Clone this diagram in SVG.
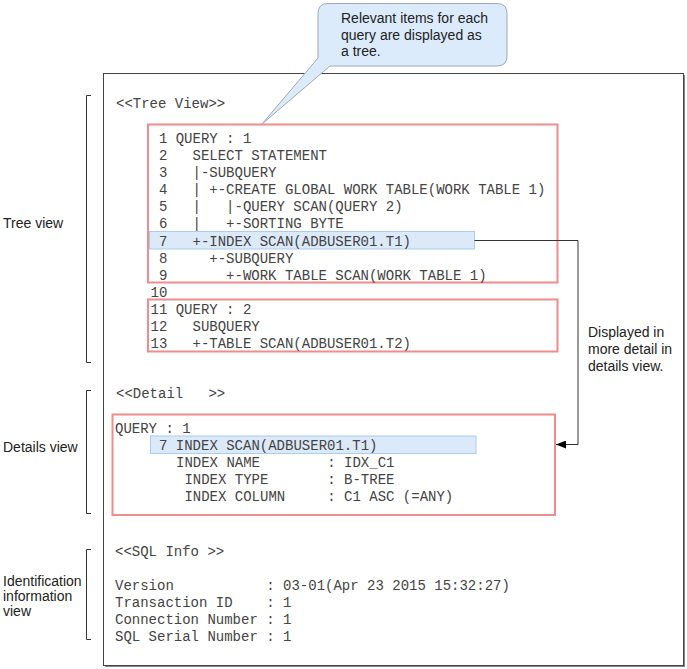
<svg xmlns="http://www.w3.org/2000/svg" width="687" height="669" viewBox="0 0 687 669">
<style>
.mono{font-family:"Liberation Mono","Courier New",monospace;font-size:14px;fill:#444;}
.sans{font-family:"Liberation Sans",Arial,sans-serif;font-size:14px;fill:#222;}
.redbox{fill:none;stroke:#f28b8b;stroke-width:2;}
.hl{fill:#dbe9f9;stroke:#a8cef2;stroke-width:1;}
.brk{fill:none;stroke:#333;stroke-width:1;}
.conn{fill:none;stroke:#333;stroke-width:1;}
</style>
<defs>
<marker id="arr" markerWidth="10" markerHeight="8" refX="10" refY="4" orient="auto" markerUnits="userSpaceOnUse">
<path d="M0,0 L10,4 L0,8 Z" fill="#000"/>
</marker>
</defs>
<rect width="687" height="669" fill="#fff"/>

<g id="main-frame">
<rect x="105" y="75" width="580" height="592" fill="#888"/>
<rect x="103.5" y="73.5" width="580" height="592" fill="#fff" stroke="#444" stroke-width="1"/>
</g>

<g id="callout">
<path d="M328,3.5 H497 Q507,3.5 507,13.5 V56 Q507,66 497,66 H330 L262,124 L318,58 V13.5 Q318,3.5 328,3.5 Z" fill="#dcebfb" stroke="#a0a8b2" stroke-width="1"/>
<text class="sans" x="341" y="22.5">Relevant items for each</text>
<text class="sans" x="341" y="39.5">query are displayed as</text>
<text class="sans" x="341" y="56">a tree.</text>
</g>

<g id="tree-view">
<text class="mono" x="116" y="108" xml:space="preserve">&lt;&lt;Tree View&gt;&gt;</text>
<rect id="tree-q1-box" class="redbox" x="148" y="124.5" width="409.5" height="158"/>
<rect id="tree-row7" class="hl" x="149.5" y="231.5" width="325" height="17.5"/>
<text class="mono" x="150.5" y="143" xml:space="preserve"> 1 QUERY : 1</text>
<text class="mono" x="150.5" y="160.1" xml:space="preserve"> 2   SELECT STATEMENT</text>
<text class="mono" x="150.5" y="177.2" xml:space="preserve"> 3   |-SUBQUERY</text>
<text class="mono" x="150.5" y="194.2" xml:space="preserve"> 4   | +-CREATE GLOBAL WORK TABLE(WORK TABLE 1)</text>
<text class="mono" x="150.5" y="211.3" xml:space="preserve"> 5   |   |-QUERY SCAN(QUERY 2)</text>
<text class="mono" x="150.5" y="228.4" xml:space="preserve"> 6   |   +-SORTING BYTE</text>
<text class="mono" x="150.5" y="245.5" xml:space="preserve"> 7   +-INDEX SCAN(ADBUSER01.T1)</text>
<text class="mono" x="150.5" y="262.6" xml:space="preserve"> 8     +-SUBQUERY</text>
<text class="mono" x="150.5" y="279.6" xml:space="preserve"> 9       +-WORK TABLE SCAN(WORK TABLE 1)</text>
<text class="mono" x="150.5" y="296.7" xml:space="preserve">10</text>
<rect id="tree-q2-box" class="redbox" x="148" y="299.5" width="409.5" height="52"/>
<text class="mono" x="150.5" y="313.8" xml:space="preserve">11 QUERY : 2</text>
<text class="mono" x="150.5" y="330.9" xml:space="preserve">12   SUBQUERY</text>
<text class="mono" x="150.5" y="348" xml:space="preserve">13   +-TABLE SCAN(ADBUSER01.T2)</text>
</g>

<g id="details-view">
<text class="mono" x="116" y="398" xml:space="preserve">&lt;&lt;Detail   &gt;&gt;</text>
<rect id="detail-box" class="redbox" x="112.5" y="414.5" width="442.5" height="100.5"/>
<rect id="detail-row7" class="hl" x="150.5" y="436" width="325.5" height="17.5"/>
<text class="mono" x="115" y="433" xml:space="preserve">QUERY : 1</text>
<text class="mono" x="159" y="450" xml:space="preserve">7 INDEX SCAN(ADBUSER01.T1)</text>
<text class="mono" x="176" y="467" xml:space="preserve">INDEX NAME        : IDX_C1</text>
<text class="mono" x="176" y="484" xml:space="preserve"> INDEX TYPE       : B-TREE</text>
<text class="mono" x="176" y="501" xml:space="preserve"> INDEX COLUMN     : C1 ASC (=ANY)</text>
</g>

<g id="sql-info">
<text class="mono" x="115" y="556" xml:space="preserve">&lt;&lt;SQL Info &gt;&gt;</text>
<text class="mono" x="115" y="590" xml:space="preserve">Version           : 03-01(Apr 23 2015 15:32:27)</text>
<text class="mono" x="115" y="607" xml:space="preserve">Transaction ID    : 1</text>
<text class="mono" x="115" y="624" xml:space="preserve">Connection Number : 1</text>
<text class="mono" x="115" y="641" xml:space="preserve">SQL Serial Number : 1</text>
</g>

<g id="labels">
<g id="label-tree">
<path class="brk" d="M91,95.5 H86.5 V362.5 H91"/>
<text class="sans" x="3" y="228">Tree view</text>
</g>
<g id="label-details">
<path class="brk" d="M91,390.5 H86.5 V513.5 H91"/>
<text class="sans" x="3" y="452">Details view</text>
</g>
<g id="label-ident">
<path class="brk" d="M91,549.5 H86.5 V639.5 H91"/>
<text class="sans" x="3" y="586">Identification</text>
<text class="sans" x="3" y="601">information</text>
<text class="sans" x="3" y="616">view</text>
</g>
</g>

<g id="connectors">
<path class="conn" d="M474.5,240.5 H578 V444.5 H556" marker-end="url(#arr)"/>
<text class="sans" x="588" y="337">Displayed in</text>
<text class="sans" x="588" y="354">more detail in</text>
<text class="sans" x="588" y="371">details view.</text>
</g>
</svg>
